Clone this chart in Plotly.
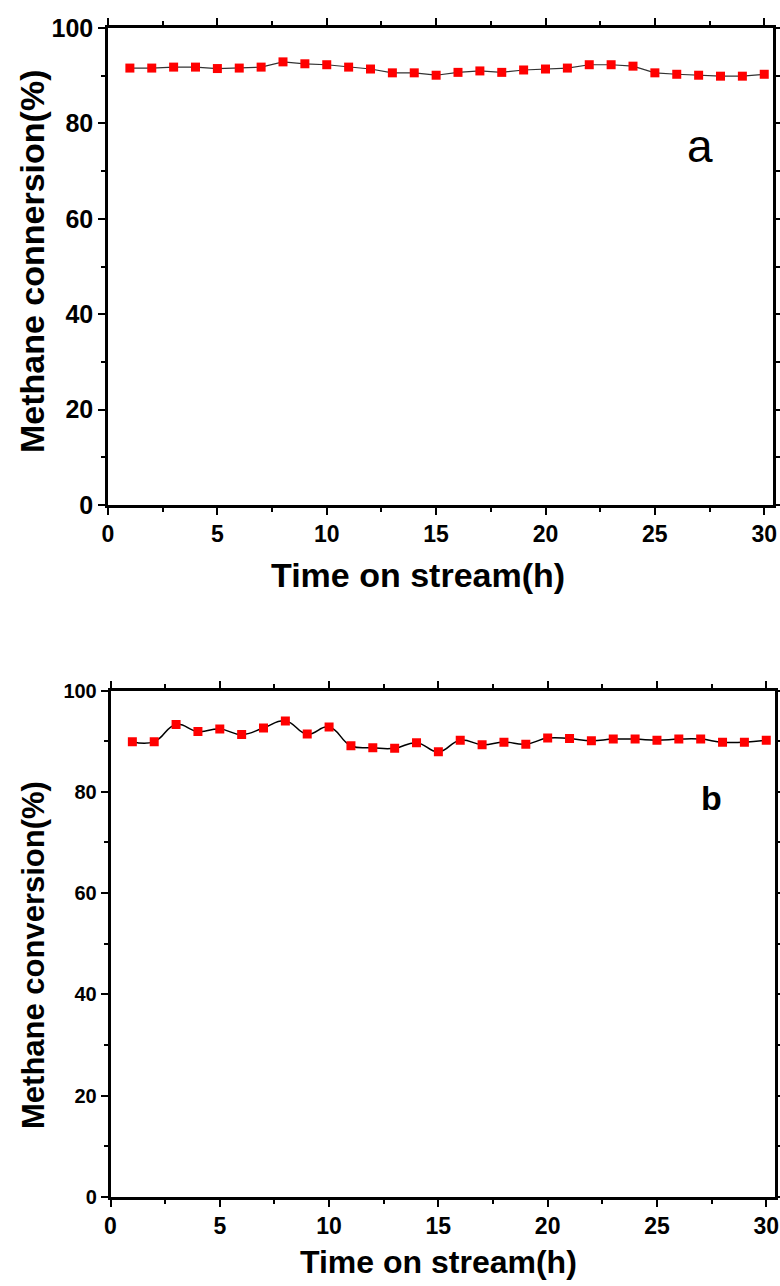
import plotly.graph_objects as go

W, H = 780, 1286

hours = list(range(1, 31))
conv_a = [91.6, 91.6, 91.8, 91.8, 91.5, 91.6, 91.8, 92.9, 92.5, 92.3,
          91.8, 91.4, 90.6, 90.6, 90.1, 90.7, 91.0, 90.7, 91.2, 91.4,
          91.6, 92.3, 92.3, 92.0, 90.6, 90.3, 90.1, 89.9, 89.9, 90.3]
conv_b = [89.9, 89.9, 93.3, 91.9, 92.4, 91.3, 92.6, 94.0, 91.4, 92.8,
          89.1, 88.7, 88.6, 89.7, 87.9, 90.2, 89.3, 89.8, 89.4, 90.6,
          90.5, 90.1, 90.4, 90.4, 90.2, 90.4, 90.4, 89.8, 89.8, 90.2]
x_ticks = [0, 5, 10, 15, 20, 25, 30]
y_ticks = [0, 20, 40, 60, 80, 100]


def px(x):
    return x / W


def py(y):
    return 1 - y / H


SANS = "Liberation Sans, Arial"

fig = go.Figure()
fig.add_trace(go.Scatter(
    x=hours, y=conv_a, mode="lines+markers", xaxis="x", yaxis="y",
    line=dict(color="#333333", width=1.2, shape="linear"),
    marker=dict(symbol="square", size=9, color="#ff0000"),
    showlegend=False))
fig.add_trace(go.Scatter(
    x=hours, y=conv_b, mode="lines+markers", xaxis="x2", yaxis="y2",
    line=dict(color="#000000", width=1.5, shape="spline", smoothing=1.3),
    marker=dict(symbol="square", size=9, color="#ff0000"),
    showlegend=False))

common_ax = dict(showgrid=False, zeroline=False, showline=True, linecolor="black",
                 linewidth=2.5, mirror="ticks", ticks="outside", tickcolor="black",
                 tickwidth=2, ticklen=7, automargin=False)


def minor(d):
    return dict(dtick=d, tick0=0, ticks="outside", ticklen=4, tickwidth=2, tickcolor="black")


def tf(size):
    return dict(family=SANS, size=size, color="black", weight="bold")


fig.update_layout(
    template="none",
    width=W, height=H, margin=dict(l=0, r=0, t=0, b=0, autoexpand=False),
    paper_bgcolor="white", plot_bgcolor="white",
    xaxis=dict(domain=[px(108), px(773)], range=[0, 30.4], anchor="y",
               tickvals=x_ticks, tickfont=tf(23), minor=minor(2.5), **common_ax),
    yaxis=dict(domain=[py(505), py(28)], range=[0, 100], anchor="x",
               tickvals=y_ticks, tickfont=tf(25), minor=minor(10), **common_ax),
    xaxis2=dict(domain=[px(110.5), px(775)], range=[0, 30.4], anchor="y2",
                tickvals=x_ticks, tickfont=tf(23), minor=minor(2.5), **common_ax),
    yaxis2=dict(domain=[py(1197), py(690.5)], range=[0, 100], anchor="x2",
                tickvals=y_ticks, tickfont=tf(20), minor=minor(10), **common_ax),
)

annots = [
    dict(text="Time on stream(h)", x=px(418), y=py(575), font=dict(family=SANS, size=34, weight="bold")),
    dict(text="Methane connersion(%)", x=px(32), y=py(262), textangle=-90,
         font=dict(family=SANS, size=34, weight="bold")),
    dict(text="Time on stream(h)", x=px(438), y=py(1262), font=dict(family=SANS, size=32, weight="bold")),
    dict(text="Methane conversion(%)", x=px(33), y=py(955), textangle=-90,
         font=dict(family=SANS, size=31, weight="bold")),
    dict(text="a", x=px(700), y=py(146), font=dict(family=SANS, size=46)),
    dict(text="b", x=px(711), y=py(798), font=dict(family=SANS, size=34, weight="bold")),
]
for a in annots:
    a.update(xref="paper", yref="paper", showarrow=False, xanchor="center", yanchor="middle")
    a["font"]["color"] = "black"
fig.update_layout(annotations=annots)

fig.write_html("out.html", config={"displayModeBar": False},
               post_script="document.body.style.margin='0px';")
